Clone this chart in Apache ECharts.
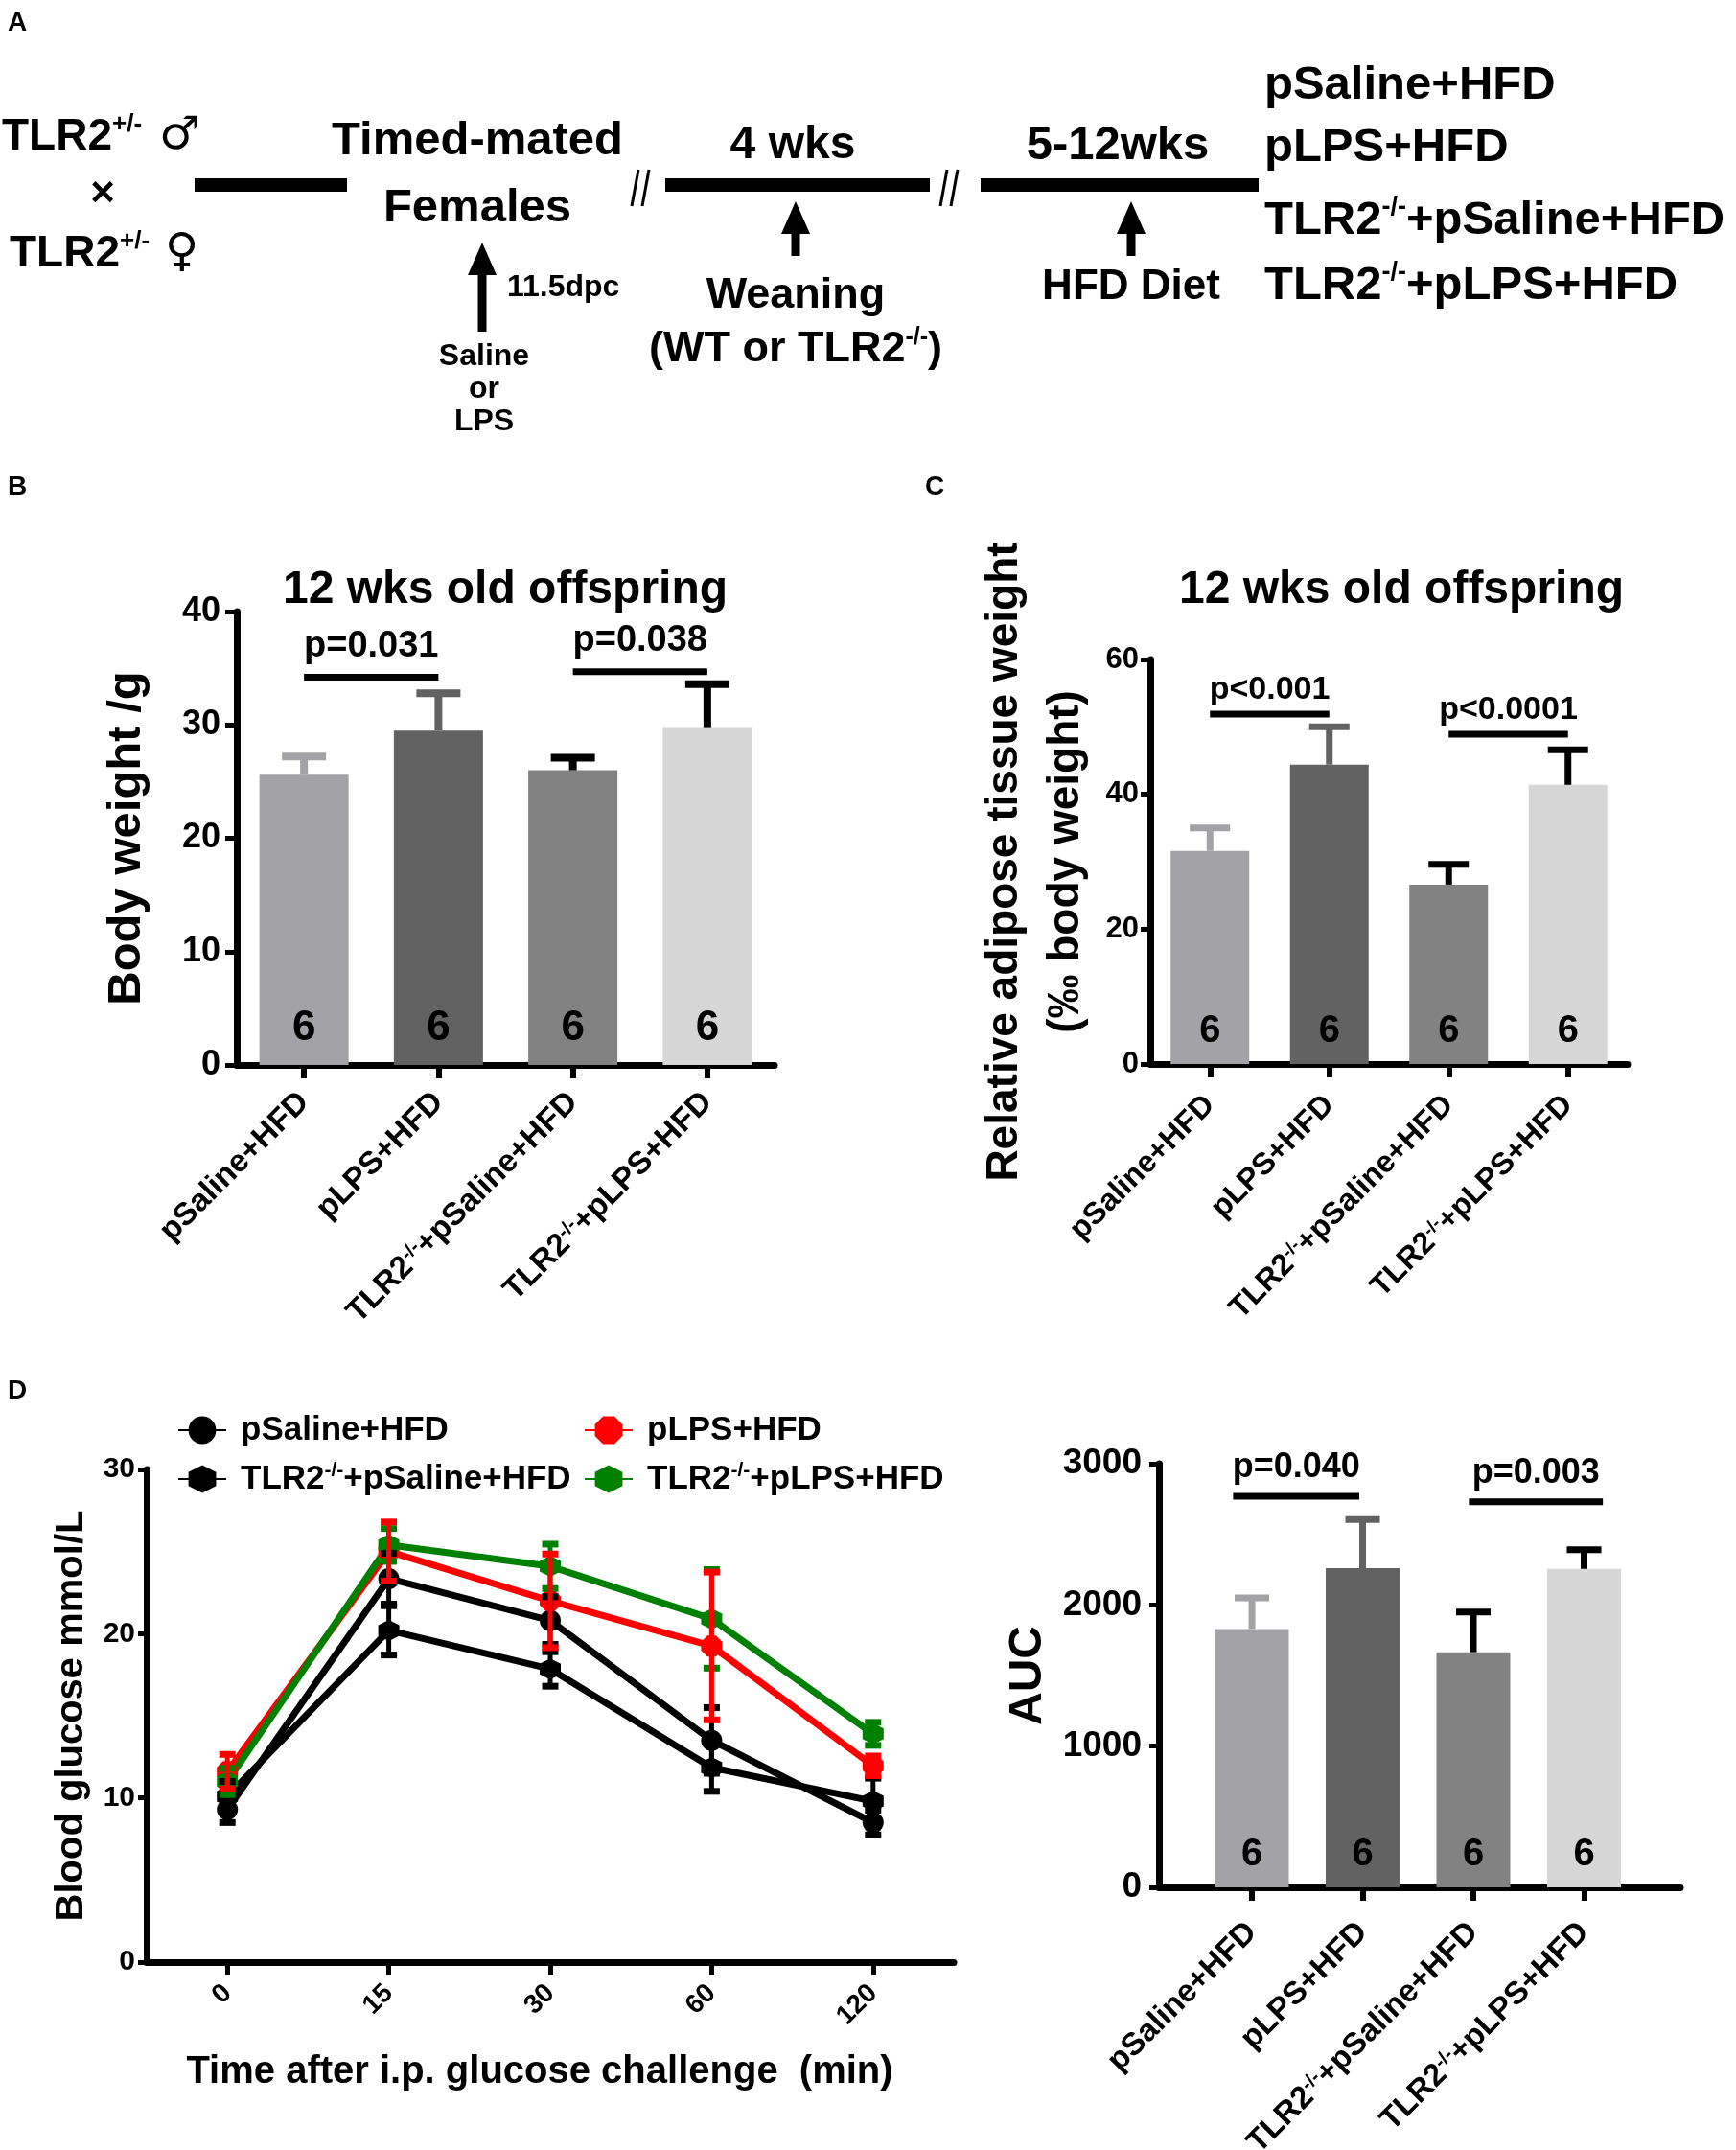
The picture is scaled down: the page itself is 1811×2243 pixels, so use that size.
<!DOCTYPE html>
<html><head><meta charset="utf-8">
<script src="https://cdn.jsdelivr.net/npm/echarts@6/dist/echarts.min.js"></script>
<style>html,body{margin:0;padding:0;background:#fff}#c{width:1811px;height:2243px}</style>
</head><body><div id="c"></div><script>
// ---------- DATA ----------
const groups = ['pSaline+HFD', 'pLPS+HFD', 'TLR2-/-+pSaline+HFD', 'TLR2-/-+pLPS+HFD'];
const nPerGroup = [6, 6, 6, 6];

const bodyWeight = [25.6, 29.5, 26.0, 29.8];
const bodyWeightErrTop = [27.2, 32.8, 27.1, 33.6];
const bodyWeightBrackets = [[0.02, 1.06, 34.2], [1.95, 3.04, 34.7]];
const bodyWeightP = ['p=0.031', 'p=0.038'];

const adipose = [31.6, 44.4, 26.6, 41.4];
const adiposeErrTop = [35.0, 50.0, 29.6, 46.6];
const adiposeBrackets = [[0.03, 1.06, 51.9], [1.98, 3.15, 48.9]];
const adiposeP = ['p<0.001', 'p<0.0001'];

const auc = [1830, 2260, 1665, 2255];
const aucErrTop = [2050, 2605, 1950, 2390];
const aucBrackets = [[-0.17, 0.97, 2770], [1.96, 3.17, 2730]];
const aucP = ['p=0.040', 'p=0.003'];

const timePoints = ['0', '15', '30', '60', '120'];
const gttPSaline      = [9.3, 23.35, 20.8, 13.5, 8.5];
const gttPSalineErr   = [0.8, 1.55, 1.45, 2.0, 0.75];
const gttPLPS         = [11.6, 25.0, 22.0, 19.25, 11.95];
const gttPLPSErr      = [1.05, 1.8, 2.85, 4.5, 0.6];
const gttKOPSaline    = [10.1, 20.2, 17.85, 11.85, 9.8];
const gttKOPSalineErr = [0.9, 1.5, 1.05, 1.45, 1.4];
const gttKOPLPS       = [11.0, 25.4, 24.1, 20.9, 13.9];
const gttKOPLPSErr    = [0.8, 1.0, 1.35, 3.0, 0.7];

// ---------- STYLE ----------
const F = '"Liberation Sans", Arial, Helvetica, sans-serif';
const barColors = ['#a3a3a7', '#626262', '#828282', '#d6d6d6'];
const errColors = ['#a3a3a7', '#626262', '#000000', '#000000'];

function richName(v) {
  if (v.indexOf('TLR2-/-') === 0) return '{a|TLR2}{s|-/-}{a|' + v.slice(7) + '}';
  return '{a|' + v + '}';
}
function richDef(size) {
  return {
    a: { fontSize: size, fontWeight: 'bold', fontFamily: F, color: '#000' },
    s: { fontSize: Math.round(size * 0.6), fontWeight: 'bold', fontFamily: F, color: '#000', verticalAlign: 'top' }
  };
}

function axisCommon(extra) {
  return Object.assign({
    axisLine: { show: true, onZero: false, lineStyle: { color: '#000', width: 7 } },
    axisTick: { show: true, length: 12, lineStyle: { color: '#000', width: 5 } },
    splitLine: { show: false }
  }, extra);
}

function barErrRender(capW, lw) {
  return function (params, api) {
    const x = api.value(0);
    const p0 = api.coord([x, api.value(1)]);
    const p1 = api.coord([x, api.value(2)]);
    const c = errColors[params.dataIndex];
    return { type: 'group', children: [
      { type: 'line', shape: { x1: p0[0], y1: p0[1], x2: p1[0], y2: p1[1] }, style: { stroke: c, lineWidth: lw } },
      { type: 'line', shape: { x1: p1[0] - capW / 2, y1: p1[1], x2: p1[0] + capW / 2, y2: p1[1] }, style: { stroke: c, lineWidth: lw } }
    ]};
  };
}
function bracketRender(labels, size, lift) {
  return function (params, api) {
    const a = api.coord([api.value(0), api.value(2)]);
    const b = api.coord([api.value(1), api.value(2)]);
    return { type: 'group', children: [
      { type: 'line', shape: { x1: a[0], y1: a[1], x2: b[0], y2: b[1] }, style: { stroke: '#000', lineWidth: 7 } },
      { type: 'text', style: { text: labels[params.dataIndex], x: (a[0] + b[0]) / 2, y: a[1] - lift,
        align: 'center', verticalAlign: 'middle', textAlign: 'center', textVerticalAlign: 'middle',
        fontSize: size, fontWeight: 'bold', fontFamily: F, fill: '#000' } }
    ]};
  };
}
function gttErrRender(color) {
  return function (params, api) {
    const x = api.value(0), m = api.value(1), e = api.value(2);
    const lo = api.coord([x, m - e]), hi = api.coord([x, m + e]);
    const cw = 17;
    return { type: 'group', children: [
      { type: 'line', shape: { x1: lo[0], y1: lo[1], x2: hi[0], y2: hi[1] }, style: { stroke: color, lineWidth: 5 } },
      { type: 'line', shape: { x1: lo[0] - cw / 2, y1: lo[1], x2: lo[0] + cw / 2, y2: lo[1] }, style: { stroke: color, lineWidth: 7 } },
      { type: 'line', shape: { x1: hi[0] - cw / 2, y1: hi[1], x2: hi[0] + cw / 2, y2: hi[1] }, style: { stroke: color, lineWidth: 7 } }
    ]};
  };
}

const hexPath = 'path://M-0.87,-0.5 L0,-1 L0.87,-0.5 L0.87,0.5 L0,1 L-0.87,0.5 Z';
const octPath = 'path://M-0.41,-1 L0.41,-1 L1,-0.41 L1,0.41 L0.41,1 L-0.41,1 L-1,0.41 L-1,-0.41 Z';

// ---------- graphic helpers (panel A, letters, titles) ----------
function T(x, y, text, size, o) {
  o = o || {};
  const st = { text: text, x: 0, y: 0, fontSize: size, fontWeight: o.weight || 'bold', fontFamily: o.family || F, fill: '#000',
    align: o.align || 'left', verticalAlign: 'middle', textAlign: o.align || 'left', textVerticalAlign: 'middle' };
  if (o.rich) st.rich = o.rich;
  return { type: 'text', x: x, y: y, style: st };
}
function R(x1, x2, yc, h) { return { type: 'rect', shape: { x: x1, y: yc - h / 2, width: x2 - x1, height: h }, style: { fill: '#000' } }; }
function arrow(x, tip, bottom) {
  const hw = 15, hh = 34, sw = 9;
  return { type: 'polygon', shape: { points: [[x, tip], [x + hw, tip + hh], [x + sw / 2, tip + hh], [x + sw / 2, bottom], [x - sw / 2, bottom], [x - sw / 2, tip + hh], [x - hw, tip + hh]] }, style: { fill: '#000' } };
}
function slashes(xc, yc) {
  return [
    { type: 'line', shape: { x1: xc - 10, y1: yc + 19, x2: xc - 3, y2: yc - 19 }, style: { stroke: '#000', lineWidth: 3 } },
    { type: 'line', shape: { x1: xc + 1, y1: yc + 19, x2: xc + 8, y2: yc - 19 }, style: { stroke: '#000', lineWidth: 3 } }
  ];
}
const supRichA = {
  a: { fontSize: 46, fontWeight: 'bold', fontFamily: F, lineHeight: 52 },
  s: { fontSize: 26, fontWeight: 'bold', fontFamily: F, verticalAlign: 'top', lineHeight: 30 }
};
const supRichW = {
  a: { fontSize: 45, fontWeight: 'bold', fontFamily: F, lineHeight: 50 },
  s: { fontSize: 25, fontWeight: 'bold', fontFamily: F, verticalAlign: 'top', lineHeight: 28 }
};
const supRichL = {
  a: { fontSize: 49, fontWeight: 'bold', fontFamily: F, lineHeight: 54 },
  s: { fontSize: 27, fontWeight: 'bold', fontFamily: F, verticalAlign: 'top', lineHeight: 30 }
};

const graphics = [
  T(8, 24, 'A', 28), T(8, 508, 'B', 28), T(965, 508, 'C', 28), T(8, 1451, 'D', 28),
  T(2, 143, '{a|TLR2}{s|+/-}', 46, { rich: supRichA }),
  T(166, 143, '\u2642', 48, { weight: 'normal', family: '"DejaVu Sans", sans-serif' }),
  T(107, 203, '\u00d7', 44, { align: 'center' }),
  T(10, 265, '{a|TLR2}{s|+/-}', 46, { rich: supRichA }),
  T(172, 265, '\u2640', 48, { weight: 'normal', family: '"DejaVu Sans", sans-serif' }),
  R(203, 362, 193, 14),
  T(498, 147, 'Timed-mated', 49, { align: 'center' }),
  T(498, 217, 'Females', 49, { align: 'center' }),
  R(694, 970, 193, 14),
  T(827, 152, '4 wks', 48, { align: 'center' }),
  R(1023, 1313, 193, 14),
  T(1166, 152, '5-12wks', 49, { align: 'center' }),
  T(1319, 89, 'pSaline+HFD', 49),
  T(1319, 154, 'pLPS+HFD', 49),
  T(1319, 230, '{a|TLR2}{s|-/-}{a|+pSaline+HFD}', 49, { rich: supRichL }),
  T(1319, 298, '{a|TLR2}{s|-/-}{a|+pLPS+HFD}', 49, { rich: supRichL }),
  arrow(503, 253, 346),
  T(529, 300, '11.5dpc', 32),
  T(505, 372, 'Saline', 32, { align: 'center' }),
  T(505, 406, 'or', 32, { align: 'center' }),
  T(505, 440, 'LPS', 32, { align: 'center' }),
  arrow(830, 210, 267),
  T(830, 309, 'Weaning', 45, { align: 'center' }),
  T(830, 365, '{a|(WT or TLR2}{s|-/-}{a|)}', 45, { align: 'center', rich: supRichW }),
  arrow(1180, 210, 267),
  T(1180, 300, 'HFD Diet', 44, { align: 'center' }),
  T(527, 616, '12 wks old offspring', 48, { align: 'center' }),
  T(1462, 616, '12 wks old offspring', 48, { align: 'center' })
].concat(slashes(669, 196), slashes(991, 196));

// ---------- OPTION ----------
const legendText = { fontSize: 35, fontWeight: 'bold', color: '#000', lineHeight: 38, padding: [0, 0, 0, 10], rich: richDef(35) };
const option = {
  animation: false,
  backgroundColor: '#fff',
  textStyle: { fontFamily: F },
  graphic: graphics,
  grid: [
    { left: 247, top: 638, width: 561, height: 473, outerBoundsMode: 'none', containLabel: false },
    { left: 1200, top: 688, width: 498, height: 422, outerBoundsMode: 'none', containLabel: false },
    { left: 153, top: 1533, width: 842, height: 514, outerBoundsMode: 'none', containLabel: false },
    { left: 1209, top: 1527, width: 544, height: 442, outerBoundsMode: 'none', containLabel: false }
  ],
  legend: [
    { orient: 'vertical', left: 180, top: 1468, itemWidth: 50, itemHeight: 36, itemGap: 13,
      data: ['pSaline+HFD', 'TLR2-/-+pSaline+HFD'], formatter: richName, textStyle: legendText },
    { orient: 'vertical', left: 604, top: 1468, itemWidth: 50, itemHeight: 36, itemGap: 13,
      data: ['pLPS+HFD', 'TLR2-/-+pLPS+HFD'], formatter: richName, textStyle: legendText }
  ],
  xAxis: [
    axisCommon({ type: 'category', gridIndex: 0, data: groups,
      axisTick: { show: true, alignWithLabel: true, length: 14, lineStyle: { color: '#000', width: 6 } },
      axisLabel: { rotate: 45, margin: 34, formatter: richName, rich: richDef(33) } }),
    axisCommon({ type: 'category', gridIndex: 1, data: groups,
      axisTick: { show: true, alignWithLabel: true, length: 14, lineStyle: { color: '#000', width: 6 } },
      axisLabel: { rotate: 45, margin: 38, formatter: richName, rich: richDef(32) } }),
    axisCommon({ type: 'category', gridIndex: 2, data: timePoints, boundaryGap: true,
      axisTick: { show: true, alignWithLabel: true, length: 13, lineStyle: { color: '#000', width: 5 } },
      axisLabel: { rotate: 45, margin: 28, fontSize: 28, fontWeight: 'bold', color: '#000' },
      name: 'Time after i.p. glucose challenge  (min)', nameLocation: 'middle', nameGap: 95,
      nameTextStyle: { fontSize: 40, fontWeight: 'bold', color: '#000', padding: [0, 22, 0, 0] } }),
    axisCommon({ type: 'value', gridIndex: 3, min: -0.84, max: 3.87,
      axisTick: { show: true, length: 14, customValues: [0, 1, 2, 3], lineStyle: { color: '#000', width: 6 } },
      axisLabel: { rotate: 45, margin: 42, customValues: [0, 1, 2, 3],
        formatter: function (v) { return richName(groups[Math.round(v)]); }, rich: richDef(33) } })
  ],
  yAxis: [
    axisCommon({ type: 'value', gridIndex: 0, min: 0, max: 40, interval: 10,
      axisLabel: { margin: 17, fontSize: 36, fontWeight: 'bold', color: '#000' },
      name: 'Body weight /g', nameLocation: 'middle', nameGap: 90,
      nameTextStyle: { fontSize: 49, fontWeight: 'bold', color: '#000' } }),
    axisCommon({ type: 'value', gridIndex: 1, min: 0, max: 60, interval: 20,
      axisTick: { show: true, length: 10, lineStyle: { color: '#000', width: 5 } },
      axisLabel: { margin: 12, fontSize: 31, fontWeight: 'bold', color: '#000' },
      name: 'Relative adipose tissue weight\n(\u2030 body weight)', nameLocation: 'middle', nameGap: 56,
      nameTextStyle: { fontSize: 46, fontWeight: 'bold', color: '#000', lineHeight: 64 } }),
    axisCommon({ type: 'value', gridIndex: 2, min: 0, max: 30, interval: 10,
      axisTick: { show: true, length: 9, lineStyle: { color: '#000', width: 5 } },
      axisLabel: { margin: 12, fontSize: 30, fontWeight: 'bold', color: '#000' },
      name: 'Blood glucose mmol/L', nameLocation: 'middle', nameGap: 58,
      nameTextStyle: { fontSize: 40, fontWeight: 'bold', color: '#000' } }),
    axisCommon({ type: 'value', gridIndex: 3, min: 0, max: 3000, interval: 1000,
      axisTick: { show: true, length: 10, lineStyle: { color: '#000', width: 5 } },
      axisLabel: { margin: 18, fontSize: 37, fontWeight: 'bold', color: '#000', formatter: function (v) { return String(v); } },
      name: 'AUC', nameLocation: 'middle', nameGap: 112,
      nameTextStyle: { fontSize: 48, fontWeight: 'bold', color: '#000' } })
  ],
  series: [
    // Panel B
    { type: 'bar', xAxisIndex: 0, yAxisIndex: 0, barWidth: 93,
      data: bodyWeight.map(function (v, i) { return { value: v, itemStyle: { color: barColors[i] } }; }),
      label: { show: true, position: 'insideBottom', distance: 16, formatter: function (p) { return String(nPerGroup[p.dataIndex]); },
        fontSize: 44, fontWeight: 'bold', color: '#000' } },
    { type: 'custom', xAxisIndex: 0, yAxisIndex: 0, clip: false, z: 5, renderItem: barErrRender(46, 8),
      encode: { x: 0, y: [1, 2] }, data: bodyWeight.map(function (v, i) { return [i, v, bodyWeightErrTop[i]]; }) },
    { type: 'custom', xAxisIndex: 0, yAxisIndex: 0, clip: false, z: 5, renderItem: bracketRender(bodyWeightP, 38, 32),
      encode: { x: [0, 1], y: 2 }, data: bodyWeightBrackets },
    // Panel C
    { type: 'bar', xAxisIndex: 1, yAxisIndex: 1, barWidth: 82,
      data: adipose.map(function (v, i) { return { value: v, itemStyle: { color: barColors[i] } }; }),
      label: { show: true, position: 'insideBottom', distance: 14, formatter: function (p) { return String(nPerGroup[p.dataIndex]); },
        fontSize: 40, fontWeight: 'bold', color: '#000' } },
    { type: 'custom', xAxisIndex: 1, yAxisIndex: 1, clip: false, z: 5, renderItem: barErrRender(42, 7),
      encode: { x: 0, y: [1, 2] }, data: adipose.map(function (v, i) { return [i, v, adiposeErrTop[i]]; }) },
    { type: 'custom', xAxisIndex: 1, yAxisIndex: 1, clip: false, z: 5, renderItem: bracketRender(adiposeP, 34, 25),
      encode: { x: [0, 1], y: 2 }, data: adiposeBrackets },
    // Panel D
    { name: 'pSaline+HFD', type: 'line', xAxisIndex: 2, yAxisIndex: 2, data: gttPSaline, color: '#000',
      lineStyle: { width: 7, color: '#000' }, symbol: 'circle', symbolSize: 22, itemStyle: { color: '#000' } },
    { name: 'pLPS+HFD', type: 'line', xAxisIndex: 2, yAxisIndex: 2, data: gttPLPS, color: '#ff0000',
      lineStyle: { width: 7, color: '#ff0000' }, symbol: octPath, symbolSize: 22, itemStyle: { color: '#ff0000' } },
    { name: 'TLR2-/-+pSaline+HFD', type: 'line', xAxisIndex: 2, yAxisIndex: 2, data: gttKOPSaline, color: '#000',
      lineStyle: { width: 7, color: '#000' }, symbol: hexPath, symbolSize: 22, itemStyle: { color: '#000' } },
    { name: 'TLR2-/-+pLPS+HFD', type: 'line', xAxisIndex: 2, yAxisIndex: 2, data: gttKOPLPS, color: '#008000',
      lineStyle: { width: 7, color: '#008000' }, symbol: hexPath, symbolSize: 22, itemStyle: { color: '#008000' } },
    { type: 'custom', xAxisIndex: 2, yAxisIndex: 2, clip: false, z: 4, renderItem: gttErrRender('#000'),
      encode: { x: 0, y: 1 }, data: gttPSaline.map(function (v, i) { return [i, v, gttPSalineErr[i]]; }) },
    { type: 'custom', xAxisIndex: 2, yAxisIndex: 2, clip: false, z: 4, renderItem: gttErrRender('#000'),
      encode: { x: 0, y: 1 }, data: gttKOPSaline.map(function (v, i) { return [i, v, gttKOPSalineErr[i]]; }) },
    { type: 'custom', xAxisIndex: 2, yAxisIndex: 2, clip: false, z: 4, renderItem: gttErrRender('#008000'),
      encode: { x: 0, y: 1 }, data: gttKOPLPS.map(function (v, i) { return [i, v, gttKOPLPSErr[i]]; }) },
    { type: 'custom', xAxisIndex: 2, yAxisIndex: 2, clip: false, z: 4, renderItem: gttErrRender('#ff0000'),
      encode: { x: 0, y: 1 }, data: gttPLPS.map(function (v, i) { return [i, v, gttPLPSErr[i]]; }) },
    // Panel E (AUC)
    { type: 'bar', xAxisIndex: 3, yAxisIndex: 3, barWidth: 77,
      data: auc.map(function (v, i) { return { value: [i, v], itemStyle: { color: barColors[i] } }; }),
      label: { show: true, position: 'insideBottom', distance: 14, formatter: function (p) { return String(nPerGroup[p.dataIndex]); },
        fontSize: 40, fontWeight: 'bold', color: '#000' } },
    { type: 'custom', xAxisIndex: 3, yAxisIndex: 3, clip: false, z: 5, renderItem: barErrRender(36, 7),
      encode: { x: 0, y: [1, 2] }, data: auc.map(function (v, i) { return [i, v, aucErrTop[i]]; }) },
    { type: 'custom', xAxisIndex: 3, yAxisIndex: 3, clip: false, z: 5, renderItem: bracketRender(aucP, 36, 30),
      encode: { x: [0, 1], y: 2 }, data: aucBrackets }
  ]
};

const chart = echarts.init(document.getElementById('c'), null, { renderer: 'canvas' });
chart.setOption(option);
</script></body></html>
